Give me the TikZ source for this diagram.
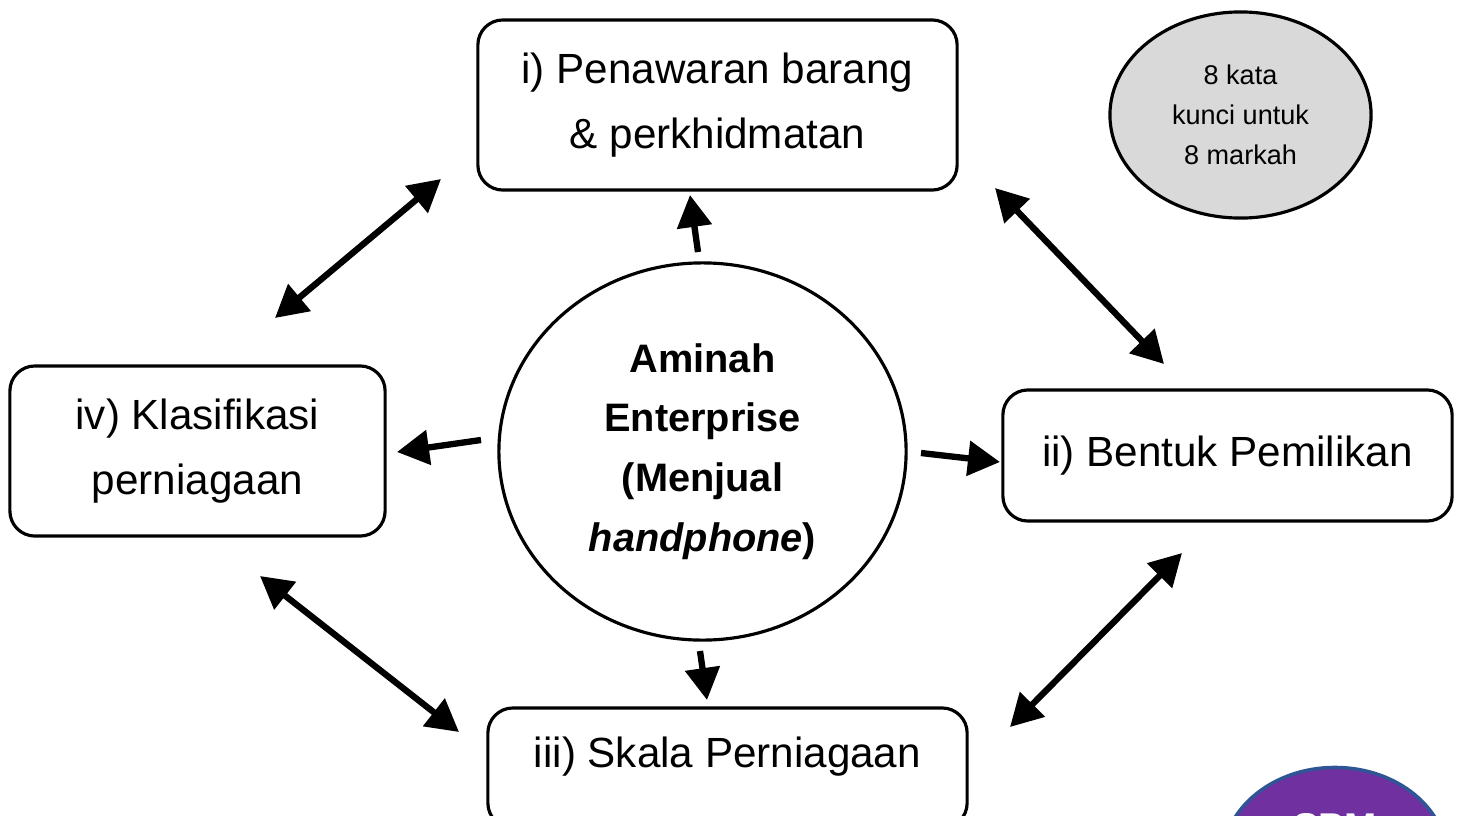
\documentclass[tikz,border=0pt]{standalone}
\usepackage{fontspec}
\setmainfont{Liberation Sans}
\usepackage{tikz}
\usetikzlibrary{arrows.meta, shapes.geometric}

\definecolor{keygray}{HTML}{D9D9D9}
\definecolor{spmpurple}{HTML}{7030A0}
\definecolor{spmblue}{HTML}{2F5597}

\begin{document}
\begin{tikzpicture}[x=0.01cm, y=-0.01cm]
        \tikzstyle{every node}=[font=\fontsize{12}{18.4}\selectfont, align=center]
        \tikzstyle{topic}=[draw, line width=0.9pt, rounded corners=0.25cm, inner sep=0pt]
        \tikzstyle{link}=[line width=1.8pt, -{Triangle[length=0.32cm, width=0.34cm]}]
        \tikzstyle{twoway}=[line width=1.8pt, {Triangle[length=0.32cm, width=0.34cm]}-{Triangle[length=0.32cm, width=0.34cm]}]
        \useasboundingbox (0, 0) rectangle (1461, 815);
        \begin{scope}
        \clip (0, 0) rectangle (1461, 815);
        \node [topic, minimum width=4.79cm, minimum height=1.7cm] (tawar) at (717.5, 105) {i) Penawaran barang\\\& perkhidmatan};
        \node [topic, minimum width=3.75cm, minimum height=1.7cm] (klas) at (197.5, 451) {iv) Klasifikasi\\perniagaan};
        \node [topic, minimum width=4.49cm, minimum height=1.31cm] (bentuk) at (1227.5, 455.5) {ii) Bentuk Pemilikan};
        \node [topic, minimum width=4.79cm, minimum height=1.2cm] (skala) at (727.5, 768) {};
        \node (skalatxt) at (727.5, 757) {iii) Skala Perniagaan};
        \node [draw, line width=0.9pt, ellipse, minimum width=4.07cm, minimum height=3.77cm, inner sep=0pt,
               font=\fontsize{11.3}{17}\selectfont\bfseries] (aminah) at (702.5, 451.5)
              {Aminah\\Enterprise\\(Menjual\\\textit{handphone})};
        \node [draw, line width=0.9pt, fill=keygray, ellipse, minimum width=2.61cm, minimum height=2.06cm,
               inner sep=0pt, font=\fontsize{7.7}{11.3}\selectfont] (kunci) at (1240.5, 115) {8 kata\\kunci untuk\\8 markah};
        \node [draw=spmblue, line width=1pt, fill=spmpurple, ellipse, minimum width=2.25cm, minimum height=1.85cm] (spm) at (1335, 860) {};
        \node [text=white, font=\fontsize{11}{13}\selectfont\bfseries] (spmtxt) at (1335, 827) {SPM};
        \end{scope}
        % connector ends
        \coordinate (a1) at (698, 252); \coordinate (a2) at (690, 195);
        \coordinate (b1) at (481, 440); \coordinate (b2) at (397, 452);
        \coordinate (c1) at (921, 453); \coordinate (c2) at (1000, 462);
        \coordinate (d1) at (700, 651); \coordinate (d2) at (707, 700);
        \coordinate (e1) at (275, 318); \coordinate (e2) at (441, 179);
        \coordinate (f1) at (995, 188); \coordinate (f2) at (1164, 364);
        \coordinate (g1) at (1010, 727); \coordinate (g2) at (1182, 553);
        \coordinate (h1) at (260, 576); \coordinate (h2) at (459, 732);
        \draw[link] (a1) -- (a2);
        \draw[link] (b1) -- (b2);
        \draw[link] (c1) -- (c2);
        \draw[link] (d1) -- (d2);
        \draw[twoway] (e1) -- (e2);
        \draw[twoway] (f1) -- (f2);
        \draw[twoway] (g1) -- (g2);
        \draw[twoway] (h1) -- (h2);
      \end{tikzpicture}
\end{document}
